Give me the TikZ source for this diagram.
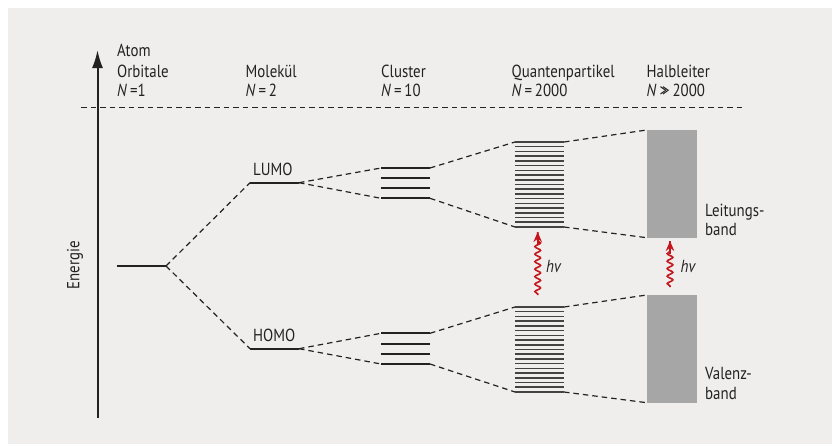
\documentclass[tikz,border=0pt]{standalone}
\usepackage{fontspec}
\setmainfont[FakeStretch=0.85]{PT Sans}
\usetikzlibrary{arrows.meta,decorations.pathmorphing,calc}
\definecolor{bg}{HTML}{EFEEEC}
\definecolor{ink}{HTML}{222222}
\definecolor{bandgray}{HTML}{A6A6A6}
\definecolor{photon}{HTML}{C4161C}
\tikzset{
  lbl/.style={inner sep=0pt, anchor=base west, text=ink, font=\fontsize{17.5}{20}\selectfont},
  level/.style={draw=ink, line width=2pt},
  fine/.style={draw=ink!85, line width=1.5pt},
  link/.style={draw=ink, line width=1.2pt, dash pattern=on 5.5pt off 4pt},
  wave/.style={draw=photon, line width=1.6pt, decorate,
     decoration={snake, amplitude=2.8pt, segment length=7.5pt, post length=7pt, pre length=1pt}},
  photonhead/.style={-{Stealth[length=10pt,width=8.5pt]}, draw=photon, fill=photon, line width=1.6pt}
}
\begin{document}
\begin{tikzpicture}[x=1pt,y=-1pt]
\useasboundingbox (0,0) rectangle (832,444);
\fill[white] (0,0) rectangle (832,444);
\fill[bg] (8,8) rectangle (832,444);

% energy axis
\coordinate (axB) at (97.5,418);
\coordinate (axT) at (97.5,50);
\draw[ink, line width=2pt, -{Latex[length=18pt,width=11pt]}] (axB) -- (axT);
\node[inner sep=0pt, text=ink, font=\fontsize{17.5}{20}\selectfont, rotate=90] (energie) at (75,265) {Energie};

% separator
\coordinate (sepL) at (81,107.7);
\coordinate (sepR) at (745,107.7);
\draw[link, line width=1.1pt] (sepL) -- (sepR);

% header labels
\node[lbl] (h1a) at (117,56.7) {Atom};
\node[lbl] (h1b) at (117,77.7) {Orbitale};
\node[lbl] (h1c) at (117,96.7) {\textit{N}\,=1};
\node[lbl] (h2b) at (245.5,77.7) {Molekül};
\node[lbl] (h2c) at (245.5,96.7) {\textit{N}\,=\,2};
\node[lbl] (h3b) at (381,77.7) {Cluster};
\node[lbl] (h3c) at (381,96.7) {\textit{N}\,=\,10};
\node[lbl] (h4b) at (511.5,77.7) {Quantenpartikel};
\node[lbl] (h4c) at (511.5,96.7) {\textit{N}\,=\,2000};
\node[lbl] (h5b) at (646.5,77.7) {Halbleiter};
\node[lbl] (h5c) at (646.5,96.7) {\textit{N}\,>\kern-0.28em>\,2000};

% atom level
\coordinate (aL) at (117,266);
\coordinate (aR) at (166,266);
\draw[level] (aL) -- (aR);

% LUMO / HOMO
\coordinate (luL) at (250,182.7);
\coordinate (luR) at (299,182.7);
\coordinate (hoL) at (250,348.7);
\coordinate (hoR) at (299,348.7);
\draw[level] (luL) -- (luR);
\draw[level] (hoL) -- (hoR);
\node[lbl] (lumo) at (253,175) {LUMO};
\node[lbl] (homo) at (253,341) {HOMO};

% cluster levels
\foreach \y [count=\i] in {168,178.2,188.3,198.3} {
  \coordinate (cuL\i) at (381,\y);
  \coordinate (cuR\i) at (430,\y);
  \draw[level] (cuL\i) -- (cuR\i);
}
\foreach \y [count=\i] in {333.3,343.7,354,364} {
  \coordinate (clL\i) at (381,\y);
  \coordinate (clR\i) at (430,\y);
  \draw[level] (clL\i) -- (clR\i);
}

% quantum particle levels
\foreach \i in {0,...,18} {
  \draw[fine] (515,{142+\i*4.72}) -- (564,{142+\i*4.72});
  \draw[fine] (515,{307+\i*4.72}) -- (564,{307+\i*4.72});
}
\coordinate (quTL) at (515,142);
\coordinate (quTR) at (564,142);
\coordinate (quBL) at (515,227);
\coordinate (quBR) at (564,227);
\coordinate (qlTL) at (515,307);
\coordinate (qlTR) at (564,307);
\coordinate (qlBL) at (515,392);
\coordinate (qlBR) at (564,392);

% bands
\fill[bandgray] (646.7,130) rectangle (696.7,237.7);
\fill[bandgray] (646.7,295) rectangle (696.7,402.7);
\coordinate (buT) at (646.7,130);
\coordinate (buB) at (646.7,237.7);
\coordinate (blT) at (646.7,295);
\coordinate (blB) at (646.7,402.7);
\node[lbl] (lb1) at (705,216.5) {Leitungs-};
\node[lbl] (lb2) at (705,235) {band};
\node[lbl] (vb1) at (705,379) {Valenz-};
\node[lbl] (vb2) at (705,399.5) {band};

% dashed connectors
\draw[link] (aR) -- (luL);
\draw[link] (aR) -- (hoL);
\draw[link] (luR) -- (cuL1);
\draw[link] (luR) -- (cuL4);
\draw[link] (hoR) -- (clL1);
\draw[link] (hoR) -- (clL4);
\draw[link] (cuR1) -- (quTL);
\draw[link] (cuR4) -- (quBL);
\draw[link] (clR1) -- (qlTL);
\draw[link] (clR4) -- (qlBL);
\draw[link] (quTR) -- (buT);
\draw[link] (quBR) -- (buB);
\draw[link] (qlTR) -- (blT);
\draw[link] (qlBR) -- (blB);

% photons
\coordinate (p1s) at (537.7,295);
\coordinate (p1e) at (537.7,232);
\coordinate (p2s) at (670,287);
\coordinate (p2e) at (670,241);
\coordinate (p1h) at (537.7,245);
\coordinate (p2h) at (670,254);
\draw[wave] (p1s) -- (p1e);
\draw[photonhead] (p1h) -- (p1e);
\draw[wave] (p2s) -- (p2e);
\draw[photonhead] (p2h) -- (p2e);
\node[lbl, font=\fontsize{17.5}{20}\selectfont\itshape] (hv1) at (546,272.5) {hv};
\node[lbl, font=\fontsize{17.5}{20}\selectfont\itshape] (hv2) at (680.5,272.5) {hv};
\end{tikzpicture}
\end{document}
